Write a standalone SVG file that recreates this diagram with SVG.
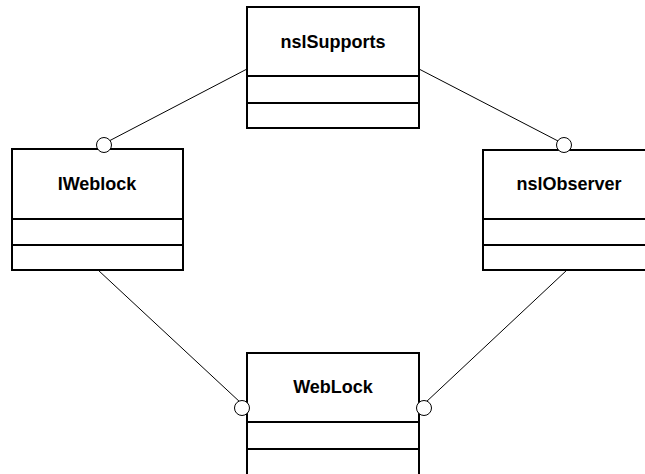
<svg xmlns="http://www.w3.org/2000/svg" width="645" height="474" viewBox="0 0 645 474">
  <style>
    .box { fill: #fff; stroke: #000; stroke-width: 2; }
    .sep { stroke: #000; stroke-width: 2; }
    .name { font-family: "Liberation Sans", Arial, sans-serif; font-weight: bold; font-size: 18px; text-anchor: middle; fill: #000; }
    .link { stroke: #000; stroke-width: 1; fill: none; }
    .lollipop { fill: #fff; stroke: #000; stroke-width: 1; }
  </style>
  <rect width="645" height="474" fill="#fff"/>

  <g id="connectors">
    <line class="link" x1="247" y1="69" x2="109" y2="141"/>
    <line class="link" x1="419" y1="69" x2="558" y2="141"/>
    <line class="link" x1="98" y1="270" x2="241" y2="403"/>
    <line class="link" x1="567" y1="270" x2="425" y2="403"/>
  </g>

  <g id="nsISupports">
    <rect class="box" x="247" y="7" width="172" height="121"/>
    <line class="sep" x1="247" y1="76" x2="419" y2="76"/>
    <line class="sep" x1="247" y1="103" x2="419" y2="103"/>
    <text class="name" x="333" y="48">nslSupports</text>
  </g>

  <g id="IWeblock">
    <rect class="box" x="12" y="149" width="171" height="121"/>
    <line class="sep" x1="12" y1="219" x2="183" y2="219"/>
    <line class="sep" x1="12" y1="245" x2="183" y2="245"/>
    <text class="name" x="97" y="190">IWeblock</text>
    <circle class="lollipop" cx="104" cy="145" r="7.5"/>
  </g>

  <g id="nsIObserver">
    <rect class="box" x="483" y="150" width="172" height="120"/>
    <line class="sep" x1="483" y1="219" x2="655" y2="219"/>
    <line class="sep" x1="483" y1="245" x2="655" y2="245"/>
    <text class="name" x="569" y="190">nslObserver</text>
    <circle class="lollipop" cx="564" cy="145" r="7.5"/>
  </g>

  <g id="WebLock">
    <rect class="box" x="247" y="353" width="172" height="130"/>
    <line class="sep" x1="247" y1="422" x2="419" y2="422"/>
    <line class="sep" x1="247" y1="449" x2="419" y2="449"/>
    <text class="name" x="333" y="393">WebLock</text>
    <circle class="lollipop" cx="242" cy="408" r="7.5"/>
    <circle class="lollipop" cx="424" cy="408" r="7.5"/>
  </g>
</svg>
